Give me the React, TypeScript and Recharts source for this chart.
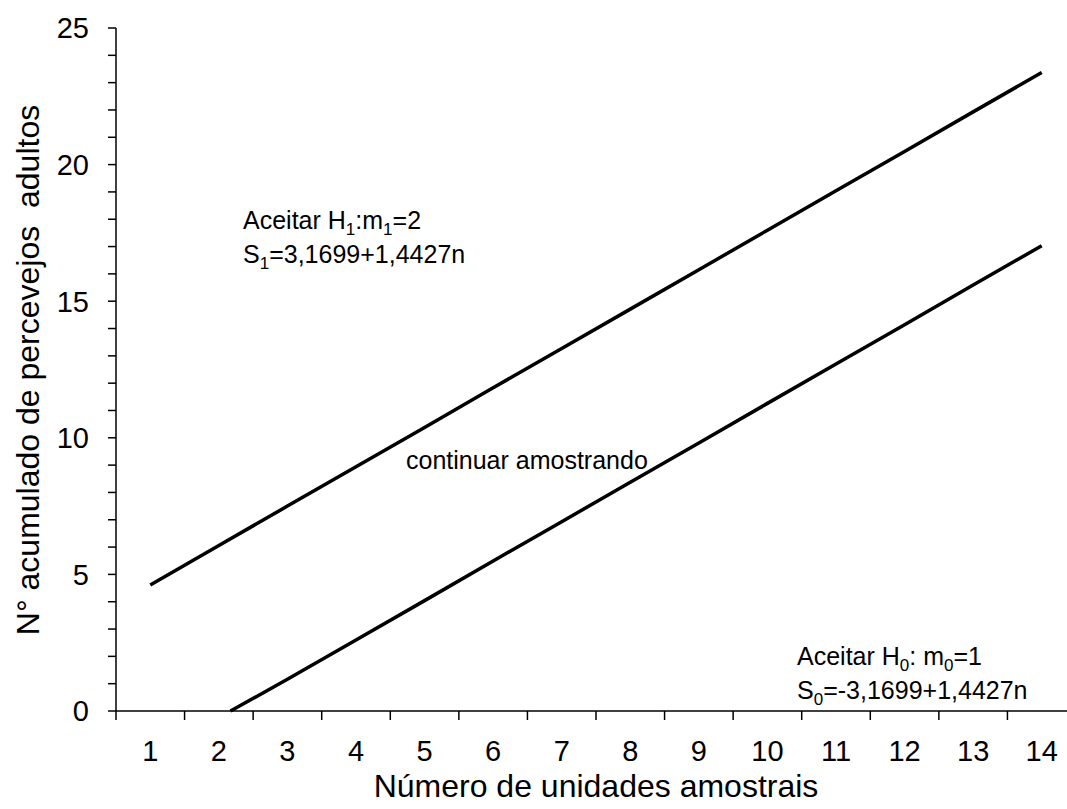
import React from "react";
import { LineChart, Line, XAxis, YAxis } from "recharts";

// upper boundary S1 = 3,1699 + 1,4427n
const s1N = [1, 2, 3, 4, 5, 6, 7, 8, 9, 10, 11, 12, 13, 14];
const s1Values = [4.61, 6.06, 7.5, 8.94, 10.38, 11.83, 13.27, 14.71, 16.15, 17.6, 19.04, 20.48, 21.93, 23.37];

// lower boundary S0 = -3,1699 + 1,4427n
const s0N = [2.17, 3, 4, 5, 6, 7, 8, 9, 10, 11, 12, 13, 14];
const s0Values = [0, 1.16, 2.6, 4.04, 5.49, 6.93, 8.37, 9.81, 11.26, 12.7, 14.14, 15.59, 17.03];

const xLabels = [1, 2, 3, 4, 5, 6, 7, 8, 9, 10, 11, 12, 13, 14];
const xTickMarks = [0.5, 1.5, 2.5, 3.5, 4.5, 5.5, 6.5, 7.5, 8.5, 9.5, 10.5, 11.5, 12.5, 13.5, 14.5];
const yTicks = [0, 1, 2, 3, 4, 5, 6, 7, 8, 9, 10, 11, 12, 13, 14, 15, 16, 17, 18, 19, 20, 21, 22, 23, 24, 25];

const s1Data = s1N.map((n, i) => ({ n, v: s1Values[i] }));
const s0Data = s0N.map((n, i) => ({ n, v: s0Values[i] }));
const xTicks = [...xTickMarks, ...xLabels].sort((a, b) => a - b);

const FONT = "'Liberation Sans', Arial, sans-serif";

const X_TICK_SIZE = 9;
const X_TICK_MARGIN = 20;

function XTick(props: any) {
  const { x, y, payload } = props;
  const axisY = y - X_TICK_SIZE - X_TICK_MARGIN;
  const v = payload.value;
  if (!Number.isInteger(v)) {
    return <line x1={x} x2={x} y1={axisY} y2={axisY + X_TICK_SIZE} stroke="#000" strokeWidth={1.5} />;
  }
  return (
    <text x={x} y={y} dy="0.71em" textAnchor="middle" fontSize={29} fontFamily={FONT} fill="#000">
      {v}
    </text>
  );
}

function YTick(props: any) {
  const { x, y, payload } = props;
  if (payload.value % 5 !== 0) return <g />;
  return (
    <text x={x} y={y} dy="0.36em" textAnchor="end" fontSize={29} fontFamily={FONT} fill="#000">
      {payload.value}
    </text>
  );
}

const note: React.CSSProperties = {
  position: "absolute",
  fontFamily: FONT,
  fontSize: 25,
  lineHeight: "31px",
  color: "#000",
  whiteSpace: "pre",
};

const sub: React.CSSProperties = { position: "relative", top: 6, fontSize: 17 };

export default function App() {
  return (
    <div
      style={{
        position: "absolute",
        left: 0,
        top: 0,
        width: 1067,
        height: 809,
        overflow: "hidden",
        background: "#fff",
      }}
    >
      <LineChart width={1100} height={809} margin={{ top: 28, right: 24, left: 56, bottom: 68 }}>
        <XAxis
          dataKey="n"
          type="number"
          domain={[0.5, 14.5]}
          ticks={xTicks}
          interval={0}
          tickLine={false}
          tickSize={X_TICK_SIZE}
          tickMargin={X_TICK_MARGIN}
          tick={<XTick />}
          axisLine={{ stroke: "#000", strokeWidth: 1.5 }}
          allowDataOverflow
        />
        <YAxis
          type="number"
          domain={[0, 25]}
          ticks={yTicks}
          interval={0}
          width={60}
          tickSize={8}
          tickMargin={19}
          tick={<YTick />}
          tickLine={{ stroke: "#000", strokeWidth: 1.5 }}
          axisLine={{ stroke: "#000", strokeWidth: 1.5 }}
        />
        <Line
          data={s1Data}
          dataKey="v"
          type="linear"
          stroke="#000"
          strokeWidth={3.5}
          dot={false}
          isAnimationActive={false}
        />
        <Line
          data={s0Data}
          dataKey="v"
          type="linear"
          stroke="#000"
          strokeWidth={3.5}
          dot={false}
          isAnimationActive={false}
        />
      </LineChart>

      <div style={{ ...note, left: 243, top: 205 }}>
        Aceitar H<span style={sub}>1</span>:m<span style={sub}>1</span>=2
        <br />
        S<span style={sub}>1</span>=3,1699+1,4427n
      </div>
      <div style={{ ...note, left: 406, top: 445 }}>continuar amostrando</div>
      <div style={{ ...note, left: 797, top: 641 }}>
        Aceitar H<span style={sub}>0</span>: m<span style={sub}>0</span>=1
        <br />
        S<span style={sub}>0</span>=-3,1699+1,4427n
      </div>

      <div
        style={{
          position: "absolute",
          left: 116,
          width: 960,
          top: 768,
          textAlign: "center",
          fontFamily: FONT,
          fontSize: 32,
          lineHeight: "37px",
          color: "#000",
          whiteSpace: "pre",
        }}
      >
        Número de unidades amostrais
      </div>
      <div
        style={{
          position: "absolute",
          left: 28,
          top: 370,
          transform: "translate(-50%, -50%) rotate(-90deg)",
          fontFamily: FONT,
          fontSize: 32,
          lineHeight: "37px",
          color: "#000",
          whiteSpace: "pre",
        }}
      >
        N° acumulado de percevejos  adultos
      </div>
    </div>
  );
}
